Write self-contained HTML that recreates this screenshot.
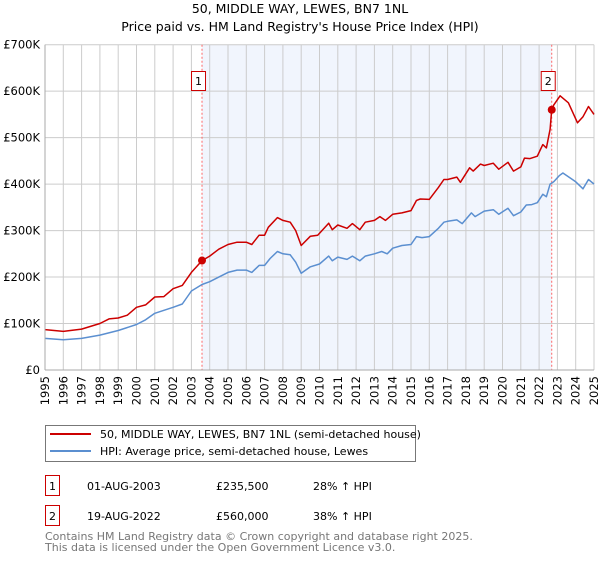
<!DOCTYPE html>
<html><head><meta charset="utf-8"><style>
body{margin:0;background:#fff;font-family:"Liberation Sans","DejaVu Sans",sans-serif;}
svg text{font-family:"DejaVu Sans","Liberation Sans",sans-serif;}
</style></head><body>
<svg id="chart" width="600" height="560" viewBox="0 0 600 560" xmlns="http://www.w3.org/2000/svg">
<text x="300" y="13" text-anchor="middle" font-size="12.5" fill="#000">50, MIDDLE WAY, LEWES, BN7 1NL</text>
<text x="300" y="31" text-anchor="middle" font-size="12.5" fill="#000">Price paid vs. HM Land Registry's House Price Index (HPI)</text>
<g id="grid"></g>
<g id="marks"></g>
<g id="axes"></g>
<g>
<rect x="45.5" y="425.5" width="370" height="36" fill="#fff" stroke="#777"/>
<line x1="50" y1="434" x2="91" y2="434" stroke="#cc0000" stroke-width="2"/>
<text x="100" y="438" font-size="11">50, MIDDLE WAY, LEWES, BN7 1NL (semi-detached house)</text>
<line x1="50" y1="451" x2="91" y2="451" stroke="#5b8fd0" stroke-width="2"/>
<text x="100" y="455" font-size="11">HPI: Average price, semi-detached house, Lewes</text>
</g>
<g>
<rect x="45.5" y="475.5" width="14" height="20" fill="#fff" stroke="#cc0000"/>
<text x="52.5" y="490" text-anchor="middle" font-size="11">1</text>
<text x="87" y="490" font-size="11">01-AUG-2003</text>
<text x="216" y="490" font-size="11">£235,500</text>
<text x="313" y="490" font-size="11">28% ↑ HPI</text>
<rect x="45.5" y="505.5" width="14" height="20" fill="#fff" stroke="#cc0000"/>
<text x="52.5" y="520" text-anchor="middle" font-size="11">2</text>
<text x="87" y="520" font-size="11">19-AUG-2022</text>
<text x="216" y="520" font-size="11">£560,000</text>
<text x="313" y="520" font-size="11">38% ↑ HPI</text>
</g>
<text x="45" y="540" font-size="11" fill="#777">Contains HM Land Registry data © Crown copyright and database right 2025.</text>
<text x="45" y="551" font-size="11" fill="#777">This data is licensed under the Open Government Licence v3.0.</text>
</svg>
<script>
const hpiYears=[1995,1996,1997,1998,1999,2000,2000.5,2001,2002,2002.5,2003,2003.58,2004,2004.5,2005,2005.5,2006,2006.3,2006.7,2007,2007.3,2007.7,2008,2008.4,2008.7,2009,2009.5,2010,2010.5,2010.7,2011,2011.5,2011.8,2012.2,2012.5,2013,2013.4,2013.7,2014,2014.5,2015,2015.3,2015.6,2016,2016.5,2016.8,2017,2017.5,2017.8,2018.3,2018.5,2019,2019.5,2019.8,2020.3,2020.6,2021,2021.3,2021.6,2021.9,2022.2,2022.4,2022.6,2022.8,2023.1,2023.3,2023.6,2024,2024.4,2024.7,2025];
const hpiValues=[68,65,68,75,85,98,108,122,135,142,170,184,190,200,210,215,215,210,225,225,240,255,250,248,232,208,222,228,245,235,243,238,245,235,245,250,255,250,262,268,270,287,285,287,305,318,320,323,315,338,330,342,345,335,348,332,340,355,356,360,378,373,400,405,418,424,416,405,390,410,400];
const priceYears=[1995,1996,1997,1998,1998.5,1999,1999.5,2000,2000.5,2001,2001.5,2002,2002.5,2003,2003.58,2004,2004.5,2005,2005.5,2006,2006.3,2006.7,2007,2007.2,2007.7,2008,2008.4,2008.7,2009,2009.5,2009.9,2010.5,2010.7,2011,2011.5,2011.8,2012.2,2012.5,2013,2013.3,2013.6,2014,2014.5,2015,2015.3,2015.5,2016,2016.5,2016.8,2017,2017.5,2017.7,2018.2,2018.4,2018.8,2019,2019.5,2019.8,2020.3,2020.6,2021,2021.2,2021.5,2021.9,2022.2,2022.4,2022.6,2022.69,2022.8,2023.15,2023.6,2024.1,2024.4,2024.7,2025];
const priceValues=[87,83,88,100,110,112,118,135,140,157,158,175,182,210,235.5,245,260,270,275,275,270,290,290,307,328,322,318,300,268,288,290,316,302,312,305,315,302,318,322,330,322,335,338,343,365,368,367,393,410,410,415,404,435,428,443,440,445,432,447,428,437,456,455,460,485,478,518,560,570,590,575,532,545,567,550];
const saleYears=[2003.58,2022.69];
const saleValues=[235.5,560];
const saleLabels=["1","2"];
const yTicks=[0,100,200,300,400,500,600,700];
const yTickLabels=["£0","£100K","£200K","£300K","£400K","£500K","£600K","£700K"];
const xTicks=[1995,1996,1997,1998,1999,2000,2001,2002,2003,2004,2005,2006,2007,2008,2009,2010,2011,2012,2013,2014,2015,2016,2017,2018,2019,2020,2021,2022,2023,2024,2025];

const X0=45,X1=594,Y0=370,Y1=44.7;
const x=v=>X0+(v-1995)/30*(X1-X0);
const y=v=>Y0-v/700*(Y0-Y1);
const NS="http://www.w3.org/2000/svg";
function mk(p,tag,attrs){const e=document.createElementNS(NS,tag);for(const k in attrs)e.setAttribute(k,attrs[k]);p.appendChild(e);return e;}
const grid=document.getElementById('grid'),marks=document.getElementById('marks'),axes=document.getElementById('axes');

const shade=mk(grid,'rect',{x:x(saleYears[0]),y:Y1,width:x(saleYears[1])-x(saleYears[0]),height:Y0-Y1,fill:'#eef3fc',opacity:'0.8'});


xTicks.forEach(t=>{const l=mk(grid,'line',{x1:x(t),x2:x(t),y1:Y1,y2:Y0,stroke:'#cccccc','stroke-width':1});


const tx=mk(axes,'text',{x:0,y:0,'font-size':11.5,'text-anchor':'end',transform:`translate(${x(t)+4},${Y0+6}) rotate(-90)`});tx.textContent=t;

});
yTicks.forEach((t,i)=>{const l=mk(grid,'line',{x1:X0,x2:X1,y1:y(t),y2:y(t),stroke:'#cccccc','stroke-width':1});


const tx=mk(axes,'text',{x:X0-5,y:y(t)+4,'font-size':11.5,'text-anchor':'end'});tx.textContent=yTickLabels[i];

});
const ax=mk(axes,'line',{x1:X0,x2:X0,y1:Y1,y2:Y0,stroke:'#aaa'});


const bx=mk(axes,'line',{x1:X0,x2:X1,y1:Y0,y2:Y0,stroke:'#aaa'});



saleYears.forEach((s,i)=>{const d=mk(marks,'line',{x1:x(s),x2:x(s),y1:Y1,y2:Y0,stroke:'#ff6666','stroke-dasharray':'2,2','stroke-width':1});

});

function path(xs,vs,col,name){const d=xs.map((t,i)=>(i?'L':'M')+x(t).toFixed(1)+','+y(vs[i]).toFixed(1)).join('');
const p=mk(marks,'path',{d:d,fill:'none',stroke:col,'stroke-width':1.5,'stroke-linejoin':'round'});

}
path(hpiYears,hpiValues,'#5b8fd0','hpi-line');
path(priceYears,priceValues,'#cc0000','price-paid-line');

saleYears.forEach((s,i)=>{const c=mk(marks,'circle',{cx:x(s),cy:y(saleValues[i]),r:4,fill:'#cc0000'});


const b=mk(marks,'rect',{x:x(s)-10.5,y:71.5,width:14,height:19,fill:'#fff',stroke:'#cc0000'});


const t=mk(marks,'text',{x:x(s)-3.5,y:85,'font-size':11,'text-anchor':'middle'});t.textContent=saleLabels[i];

});
</script>
</body></html>
